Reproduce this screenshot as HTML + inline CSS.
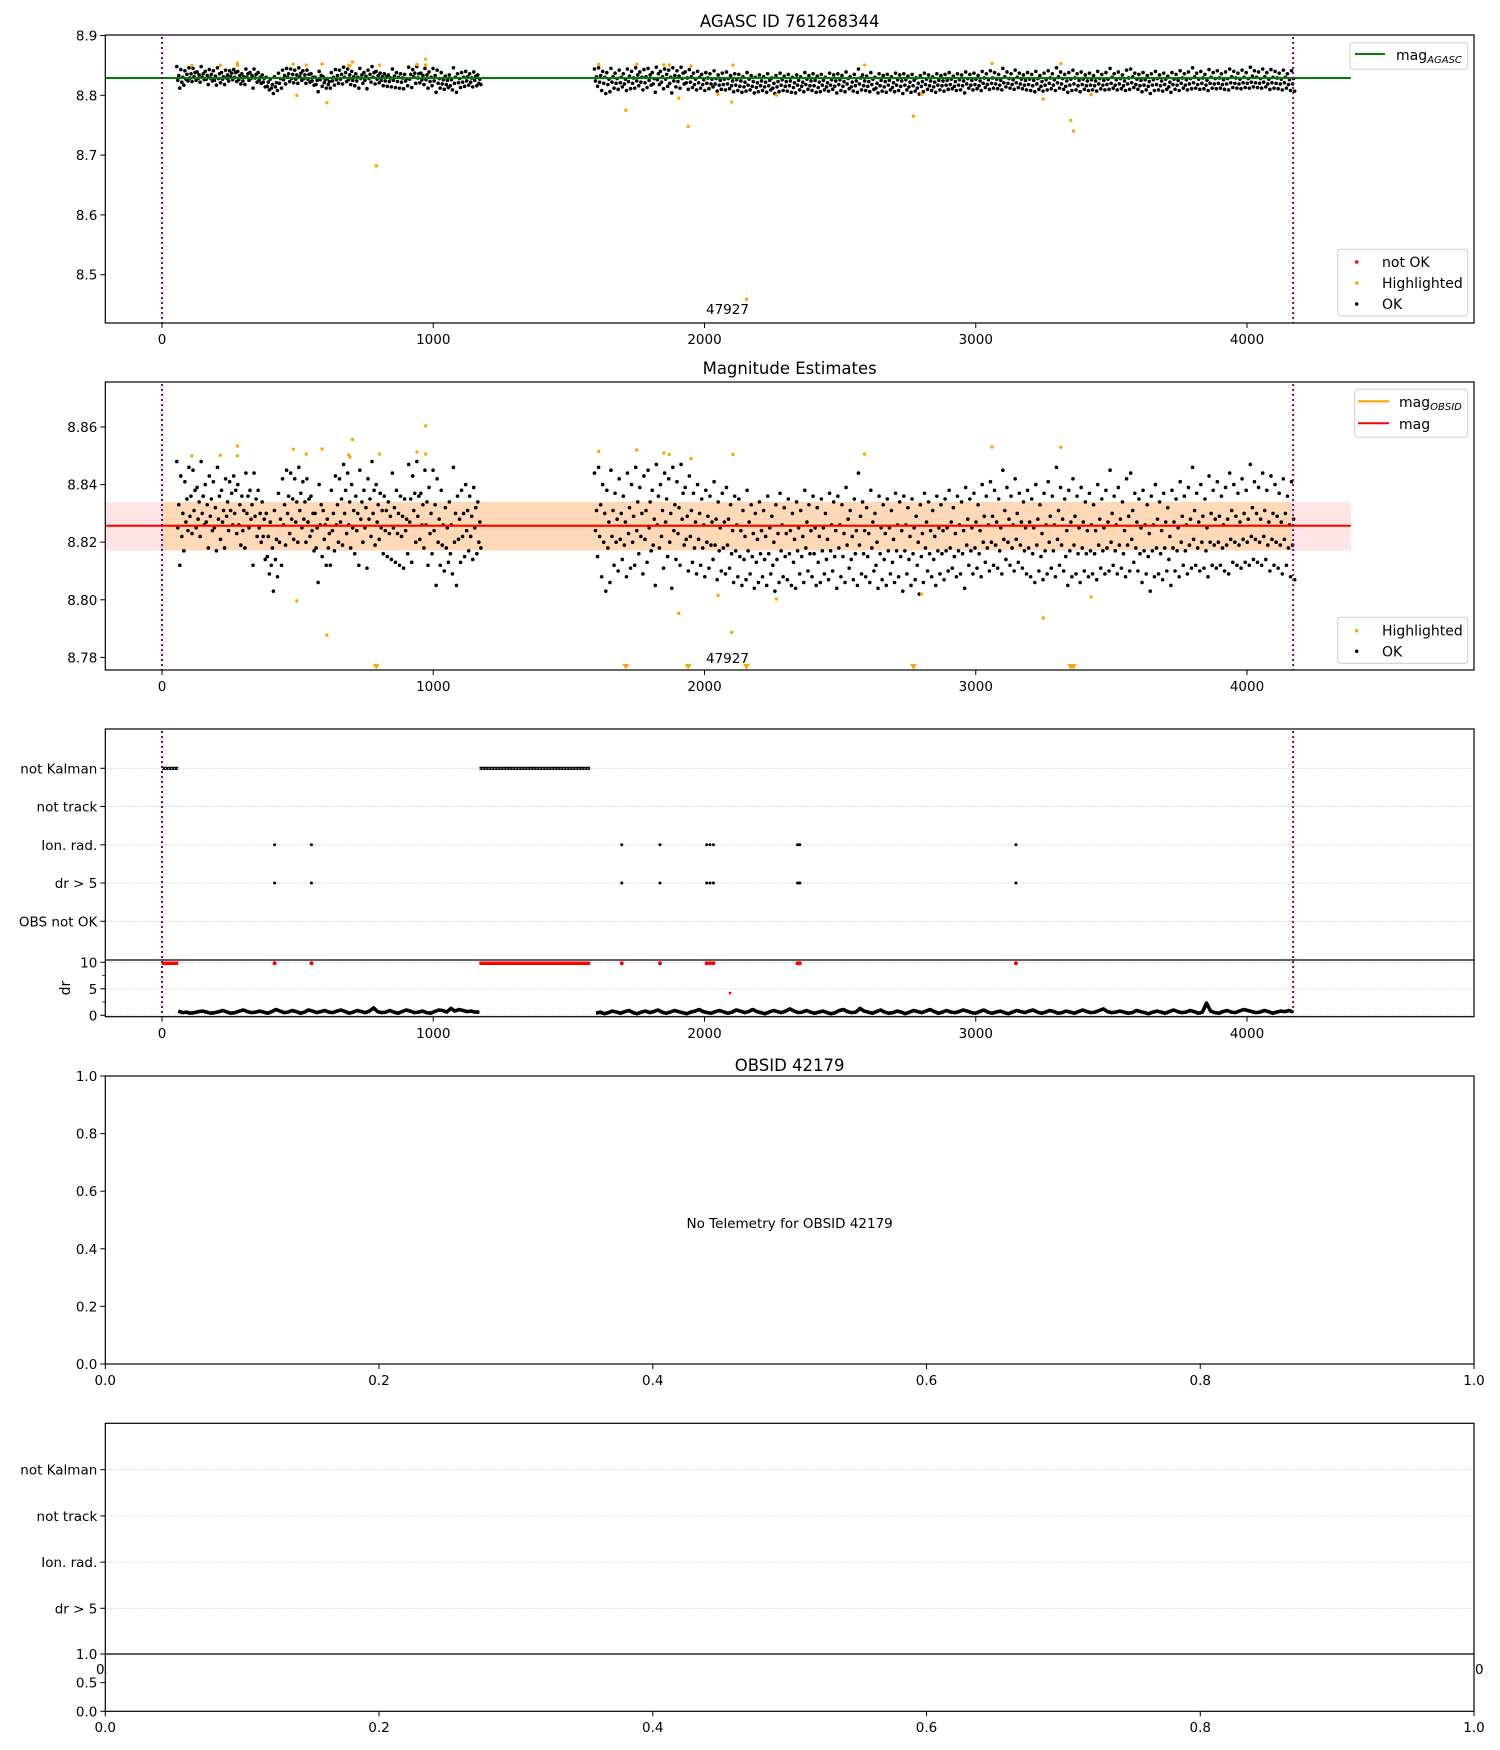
<!DOCTYPE html>
<html><head><meta charset="utf-8"><style>
html,body{margin:0;padding:0;background:#fff}
svg{display:block}
text{font-family:"DejaVu Sans","Liberation Sans",sans-serif;fill:#000}
</style></head><body>
<svg id="fig" width="1500" height="1750" viewBox="0 0 1500 1750" xmlns="http://www.w3.org/2000/svg"></svg>
<script>
// ---------- data ----------
const segStart = [60, 1600];
const segEnd = [1170, 4170];
// magnitude samples, in units of 0.001 mag above 8.800, 4 per time step
const magSeg1 = [
48,33,25,12, 43,30,22,17, 41,35,27,24, 46,36,29,23, 45,38,31,25,
39,34,28,22, 48,36,30,26, 40,33,27,18, 43,35,29,24, 41,32,25,17,
46,36,28,21, 38,31,27,18, 42,34,29,24, 41,37,31,26, 43,38,30,23,
40,33,26,19, 36,31,24,18, 44,36,30,25, 38,33,28,12, 44,35,29,22,
38,30,25,20, 34,28,22,14, 30,22,15,9, 27,18,12,3, 31,21,14,8,
37,28,20,12, 42,33,26,19, 45,36,30,23, 44,35,28,21, 42,34,27,20,
46,37,31,25, 41,34,28,20, 42,35,27,22, 36,30,24,17, 30,25,18,6,
40,33,26,15, 31,26,21,12, 28,23,18,12, 38,30,24,17, 43,33,26,20,
42,35,27,19, 47,38,30,23, 44,34,26,18, 40,31,25,16, 36,30,24,12,
45,34,28,20, 38,32,25,11, 42,35,28,22, 48,38,30,19, 40,33,27,21,
37,31,25,16, 36,31,24,15, 34,29,23,14, 44,32,25,13, 38,30,23,12,
36,29,22,11, 35,28,24,16, 47,35,27,13, 43,37,31,20, 48,36,29,21,
37,33,26,18, 45,34,26,12, 39,30,23,16, 45,33,24,5, 42,28,20,12,
38,26,19,10, 32,25,18,13, 34,26,16,9, 46,30,20,5, 36,28,21,13,
38,30,22,15, 40,31,24,17, 36,29,22,14, 39,32,25,16, 34,27,20,18];
const magSeg2 = [
44,31,24,15, 46,33,22,8, 40,30,20,3, 38,27,18,6, 45,31,22,12,
37,28,20,10, 42,30,21,14, 36,27,19,8, 44,32,23,11, 40,29,20,12,
46,34,24,16, 39,30,22,9, 43,31,21,13, 45,34,25,17, 38,28,19,5,
47,36,26,18, 40,31,22,11, 44,35,27,15, 42,30,20,4, 46,33,24,14,
41,32,23,12, 47,37,28,19, 39,29,21,10, 43,31,22,13, 37,27,18,9,
40,30,21,12, 35,26,18,8, 38,29,20,11, 36,27,19,14, 41,28,19,7,
34,25,17,10, 37,27,18,9, 39,28,19,11, 33,24,16,6, 36,26,17,8,
35,24,15,5, 31,22,14,7, 38,27,17,9, 33,23,15,4, 30,21,13,6,
34,24,16,8, 31,22,14,5, 36,25,16,9, 29,20,12,3, 33,23,14,6,
37,26,17,8, 32,23,15,7, 35,24,16,5, 30,21,13,4, 34,25,17,9,
31,22,15,6, 38,27,18,10, 33,24,16,8, 36,25,16,5, 32,22,13,6,
35,25,17,9, 30,21,14,7, 37,26,17,10, 34,24,15,4, 36,26,18,8,
33,23,15,6, 39,28,19,11, 31,22,14,7, 35,24,16,5, 44,29,19,9,
34,24,16,8, 32,23,15,6, 38,27,18,10, 30,20,12,4, 36,25,16,7,
33,23,14,5, 35,25,17,9, 31,21,13,6, 37,26,17,8, 34,24,15,3,
36,26,17,9, 32,22,14,5, 35,25,16,7, 29,20,12,2, 33,23,15,6,
37,27,18,10, 34,24,16,8, 31,22,14,5, 36,25,17,9, 33,24,16,7,
35,25,17,10, 38,27,18,11, 32,23,15,8, 36,26,17,9, 34,24,16,4,
39,28,19,12, 35,25,17,9, 37,27,18,11, 33,24,16,8, 40,29,20,13,
36,26,18,10, 41,29,20,12, 38,27,19,11, 35,25,17,9, 45,31,21,14,
39,28,20,12, 36,26,18,10, 42,30,21,13, 37,27,19,11, 34,25,17,9,
38,27,18,8, 35,25,16,6, 40,28,19,10, 33,23,15,7, 37,26,17,9,
41,29,20,11, 36,26,17,8, 46,31,21,12, 39,28,19,10, 35,24,15,5,
38,27,17,8, 42,29,19,9, 36,25,16,6, 39,27,18,10, 34,24,16,8,
37,26,17,9, 33,24,16,7, 40,28,19,11, 35,25,17,9, 38,27,18,10,
45,30,20,12, 36,26,17,9, 39,28,19,11, 34,24,16,8, 42,29,19,10,
44,31,21,13, 37,27,18,10, 35,25,16,6, 38,26,17,9, 33,23,15,3,
36,26,17,8, 40,28,18,9, 34,24,16,7, 37,27,18,10, 32,22,14,5,
38,27,18,10, 35,25,17,8, 41,29,20,12, 36,26,17,9, 39,28,19,11,
46,31,21,12, 37,27,18,10, 40,29,20,11, 35,25,17,8, 43,30,20,12,
38,28,19,11, 41,29,20,12, 36,26,18,10, 39,28,19,9, 44,31,21,13,
40,29,20,12, 37,27,19,11, 42,30,21,13, 38,28,20,12, 47,32,22,14,
41,30,21,13, 39,28,20,12, 44,31,22,14, 38,27,19,10, 43,30,21,12,
40,29,20,11, 37,27,19,9, 42,30,21,12, 36,26,18,8, 41,28,19,7];
const drSeg1 = [0.8,0.5,0.6,0.4,0.5,0.7,0.8,0.6,0.4,0.5,0.7,0.9,0.6,0.4,0.5,0.8,1.0,0.7,0.5,0.6,0.8,0.6,0.4,0.7,1.1,0.8,0.5,0.6,0.9,0.7,0.4,0.6,1.0,0.8,0.5,0.7,0.9,0.6,0.5,0.8,1.0,0.7,0.4,0.6,0.9,0.7,0.5,0.8,1.4,0.7,0.5,0.6,0.9,0.6,0.4,0.7,1.0,0.8,0.5,0.6,0.8,0.5,0.4,0.7,1.0,0.9,0.6,1.3,0.8,1.1,0.9,0.7,0.8,0.6,0.6];
const drSeg2 = [0.4,0.6,0.3,0.5,0.8,0.6,0.4,0.7,0.9,0.5,0.3,0.6,0.8,0.5,0.7,1.0,0.6,0.4,0.6,0.9,0.7,0.5,0.3,0.6,0.8,1.1,0.7,0.5,0.4,0.7,0.9,0.6,0.4,0.6,1.0,0.8,0.5,0.7,1.1,0.7,0.5,0.3,0.6,0.9,0.7,0.5,0.8,1.2,0.8,0.5,0.6,0.9,0.6,0.4,0.6,0.8,0.5,0.3,0.5,0.9,1.1,0.7,0.5,0.6,1.3,0.8,0.6,0.4,0.7,1.0,0.6,0.4,0.5,0.8,0.6,0.3,0.6,0.9,0.7,0.5,0.8,1.1,0.7,0.4,0.6,0.9,0.6,0.5,0.7,1.0,0.8,0.5,0.4,0.7,1.0,0.6,0.4,0.6,0.8,0.5,0.3,0.6,0.9,0.7,0.5,0.8,1.0,0.6,0.4,0.6,0.9,0.7,0.4,0.5,0.8,0.6,0.4,0.7,1.0,0.7,0.5,0.6,0.9,1.2,0.7,0.5,0.6,0.8,0.6,0.4,0.5,0.9,0.7,0.5,0.3,0.6,0.8,0.6,0.4,0.7,1.0,0.7,0.5,0.6,0.9,0.7,0.4,0.6,2.3,0.8,0.5,0.4,0.7,0.9,0.6,0.5,0.8,1.1,0.9,0.7,0.5,0.6,0.9,0.7,0.4,0.6,0.8,0.7,0.9,0.6];
const highT = [110,215,278,278,484,497,532,590,608,688,693,702,790,802,940,972,972,1610,1710,1750,1850,1870,1905,1940,1950,2050,2100,2105,2155,2265,2590,2770,2800,3060,3249,3314,3350,3360,3425];
const highMag = [8.850,8.8502,8.8534,8.850,8.8523,8.7996,8.8506,8.8524,8.7877,8.8503,8.8496,8.8557,8.682,8.8506,8.8513,8.8604,8.8506,8.8515,8.775,8.852,8.851,8.8505,8.7953,8.748,8.849,8.8015,8.7887,8.8505,8.459,8.8003,8.8506,8.765,8.802,8.8531,8.7937,8.853,8.758,8.740,8.801];
const magAgasc = 8.829;
const magMean = 8.8257;
const magBandLo = 8.8171, magBandHi = 8.834;
const obsStart = 0, obsEnd = 4170;
const notKalmanStart = [0, 1170];
const notKalmanEnd = [60, 1578];
const eventTimes = [415, 551, 1695, 1836, 2008, 2020, 2033, 2343, 2351, 3148];
const strayRedT = [2094], strayRedDr = [4.2];
const xTicks = [0, 1000, 2000, 3000, 4000];
const p1YTicks = [8.5, 8.6, 8.7, 8.8, 8.9];
const p2YTicks = [8.78, 8.80, 8.82, 8.84, 8.86];
const flagRows = ["not Kalman", "not track", "Ion. rad.", "dr > 5", "OBS not OK"];
const flagRows5 = ["not Kalman", "not track", "Ion. rad.", "dr > 5"];
const drTicks = [0, 5, 10];
const unitTicks = [0, 0.2, 0.4, 0.6, 0.8, 1.0];
const halfTicks = [0, 0.5, 1.0];

// ---------- helpers ----------
const NS = "http://www.w3.org/2000/svg";
const svg = document.getElementById("fig");
function el(tag, attrs, parent) {
  const e = document.createElementNS(NS, tag);
  for (const k in attrs) e.setAttribute(k, attrs[k]);
  (parent || svg).appendChild(e);
  return e;
}
function txt(s, x, y, size, anchor, parent) {
  const t = el("text", {x: x, y: y, "font-size": size, "text-anchor": anchor || "start"}, parent);
  t.textContent = s;
  return t;
}
const L = 105.3, R = 1474;
const X = t => 162 + t * 0.27125;
const Y1 = m => 35.5 + (8.9 - m) * 598;
const Y2 = m => 427 + (8.86 - m) * 2880;
const ROW3 = i => 768.3 + i * 38.25;
const YD = v => 1015.3 - v * 5.3;
const X4 = v => L + v * (R - L);
const Y4 = v => 1364 - v * 288;
const ROW5 = i => 1469.7 + i * 46.2;
const Y5 = v => 1711.3 - v * 57.3;

function frame(top, bottom, name) {
  const r = el("rect", {x: L, y: top, width: R - L, height: bottom - top, fill: "none", stroke: "#000", "stroke-width": 1.2});
  
  
}
function xAxis(ticks, fx, bottom, labelY, fmt, name) {
  const g = el("g", {});
  
  
  ticks.forEach(v => {
    const x = fx(v);
    el("line", {x1: x, x2: x, y1: bottom, y2: bottom + 5, stroke: "#000", "stroke-width": 1}, g);
    txt(fmt(v), x, labelY, 13.5, "middle", g);
  });
}
function yAxis(ticks, fy, fmt, name) {
  const g = el("g", {});
  
  
  ticks.forEach(v => {
    const y = fy(v);
    el("line", {x1: L - 5, x2: L, y1: y, y2: y, stroke: "#000", "stroke-width": 1}, g);
    txt(fmt(v), L - 8, y + 5, 13.5, "end", g);
  });
}
function grid(ys, name, x2) {
  const g = el("g", {});
  
  
  ys.forEach(y => el("line", {x1: L, x2: x2 || R, y1: y, y2: y, stroke: "#b0b0b0", "stroke-width": 0.8, "stroke-dasharray": "1,2"}, g));
}
function vline(t, y1, y2, name) {
  const l = el("line", {x1: X(t), x2: X(t), y1: y1, y2: y2, stroke: "#800080", "stroke-width": 2, "stroke-dasharray": "2,3"});
  
  
}
function forSamples(arr, per, cb) {
  const s = (arr === magSeg1 || arr === drSeg1) ? 0 : 1;
  const n = arr.length / per;
  const step = (segEnd[s] - segStart[s]) / (n - 1);
  for (let i = 0; i < n; i++) {
    for (let k = 0; k < per; k++) cb(segStart[s] + i * step, arr[i * per + k], k, step);
  }
}
const spreadOrder = [0, 2, 1, 3];
function okPoints(fy, name) {
  const g = el("g", {fill: "#000"});
  
  
  [magSeg1, magSeg2].forEach(arr => forSamples(arr, 4, (t, v, k, step) => {
    const tt = t + (spreadOrder[k] - 1.5) * step / 4;
    el("circle", {cx: X(tt), cy: fy(8.8 + v / 1000), r: 1.8}, g);
  }));
}
function highlightPoints(fy, ymin, bottom, name) {
  const g = el("g", {fill: "#ffa500"});
  
  
  highT.forEach((t, i) => {
    const m = highMag[i];
    if (m >= ymin) el("circle", {cx: X(t), cy: fy(m), r: 1.7}, g);
    else {
      const x = X(t);
      el("polygon", {points: `${x-3.5},${bottom-6} ${x+3.5},${bottom-6} ${x},${bottom-0.5}`}, g);
    }
  });
}
function legendBox(x, y, w, h, name) {
  const r = el("rect", {x: x, y: y, width: w, height: h, rx: 3, fill: "#fff", "fill-opacity": 0.8, stroke: "#ccc", "stroke-width": 1});
  
  
}

// ---------- Panel 1 ----------
txt("AGASC ID 761268344", (L + R) / 2, 27, 16.5, "middle");
okPoints(Y1, "panel1-ok-points");
highlightPoints(Y1, 8.419, 323, "panel1-highlighted-points");
{
  const l = el("line", {x1: L, x2: X(4383), y1: Y1(magAgasc), y2: Y1(magAgasc), stroke: "#008000", "stroke-width": 2});
  
  
}
vline(obsStart, 37, 323, "panel1-obs-start-line");
vline(obsEnd, 37, 323, "panel1-obs-end-line");
txt("47927", 706, 314, 13.5, "start");
frame(35, 323, "panel1-axes");
xAxis(xTicks, X, 323, 344, v => String(v), "panel1-x-axis");
yAxis(p1YTicks, Y1, v => v.toFixed(1), "panel1-y-axis");
legendBox(1350, 42.7, 117.7, 26.6, "panel1-legend-top");
el("line", {x1: 1355, x2: 1385, y1: 54, y2: 54, stroke: "#008000", "stroke-width": 2});
{
  const t = txt("mag", 1396, 60, 14, "start");
  
  const s = el("tspan", {"font-size": 10, "font-style": "italic", dy: 3}, t); s.textContent = "AGASC";
}
legendBox(1337.7, 249.3, 130, 66.7, "panel1-legend-bottom");
[["not OK", "#ff0000", 262], ["Highlighted", "#ffa500", 283], ["OK", "#000", 304]].forEach(e => {
  el("circle", {cx: 1356.7, cy: e[2], r: 1.8, fill: e[1]});
  txt(e[0], 1382, e[2] + 5, 14, "start");
});

// ---------- Panel 2 ----------
txt("Magnitude Estimates", (L + R) / 2, 374, 16.5, "middle");
{
  const b = el("rect", {x: L, y: Y2(magBandHi), width: X(4383) - L, height: Y2(magBandLo) - Y2(magBandHi), fill: "#ff0000", "fill-opacity": 0.1});
  
  
  const o = el("rect", {x: X(obsStart), y: Y2(magBandHi), width: X(obsEnd) - X(obsStart), height: Y2(magBandLo) - Y2(magBandHi), fill: "#ffa500", "fill-opacity": 0.2});
  
  
}
okPoints(Y2, "panel2-ok-points");
highlightPoints(Y2, 8.7756, 670, "panel2-highlighted-points");
{
  const o = el("line", {x1: X(obsStart), x2: X(obsEnd), y1: Y2(magMean), y2: Y2(magMean), stroke: "#ffa500", "stroke-width": 2});
  
  
  const l = el("line", {x1: L, x2: X(4383), y1: Y2(magMean), y2: Y2(magMean), stroke: "#ff0000", "stroke-width": 2});
  
  
}
vline(obsStart, 384, 670, "panel2-obs-start-line");
vline(obsEnd, 384, 670, "panel2-obs-end-line");
txt("47927", 706, 663, 13.5, "start");
frame(382, 670, "panel2-axes");
xAxis(xTicks, X, 670, 691, v => String(v), "panel2-x-axis");
yAxis(p2YTicks, Y2, v => v.toFixed(2), "panel2-y-axis");
legendBox(1354.7, 389.3, 113, 48, "panel2-legend-top");
el("line", {x1: 1358, x2: 1389, y1: 401.3, y2: 401.3, stroke: "#ffa500", "stroke-width": 2.2});
el("line", {x1: 1358, x2: 1389, y1: 423.3, y2: 423.3, stroke: "#ff0000", "stroke-width": 2});
{
  const t = txt("mag", 1399, 407, 14, "start");
  
  const s = el("tspan", {"font-size": 10, "font-style": "italic", dy: 3}, t); s.textContent = "OBSID";
  txt("mag", 1399, 429, 14, "start");
}
legendBox(1337.7, 617.3, 130, 46, "panel2-legend-bottom");
[["Highlighted", "#ffa500", 630.7], ["OK", "#000", 651.3]].forEach(e => {
  el("circle", {cx: 1356.7, cy: e[2], r: 1.8, fill: e[1]});
  txt(e[0], 1382, e[2] + 5, 14, "start");
});

// ---------- Panel 3 (flags + dr) ----------
grid(flagRows.map((_, i) => ROW3(i)), "panel3-row-grid");
grid(drTicks.map(YD), "panel3-dr-grid");
{
  const g = el("g", {});
  
  
  const gr = el("g", {});
  
  
  notKalmanStart.forEach((s, i) => {
    el("line", {x1: X(s), x2: X(notKalmanEnd[i]), y1: ROW3(0), y2: ROW3(0), stroke: "#000", "stroke-width": 3.2}, g);
    el("line", {x1: X(s), x2: X(notKalmanEnd[i]), y1: ROW3(0), y2: ROW3(0), stroke: "#fff", "stroke-width": 0.8, "stroke-dasharray": "1,2"}, g);
    el("line", {x1: X(s), x2: X(notKalmanEnd[i]), y1: YD(10) + 1, y2: YD(10) + 1, stroke: "#ff0000", "stroke-width": 3.5}, gr);
  });
  const ge = el("g", {fill: "#000"});
  
  
  eventTimes.forEach(t => {
    el("circle", {cx: X(t), cy: ROW3(2), r: 1.5}, ge);
    el("circle", {cx: X(t), cy: ROW3(3), r: 1.5}, ge);
    el("circle", {cx: X(t), cy: YD(10) + 1, r: 2, fill: "#ff0000"}, gr);
  });
  strayRedT.forEach((t, i) => el("circle", {cx: X(t), cy: YD(strayRedDr[i]), r: 1.4, fill: "#ff0000"}, gr));
}
{
  const g = el("g", {});
  
  
  [drSeg1, drSeg2].forEach(arr => {
    const pts = [];
    forSamples(arr, 1, (t, v) => pts.push(X(t).toFixed(1) + "," + YD(v).toFixed(1)));
    el("polyline", {points: pts.join(" "), fill: "none", stroke: "#000", "stroke-width": 3.6, "stroke-linejoin": "round"}, g);
  });
}
vline(obsStart, 731, 1016.7, "panel3-obs-start-line");
vline(obsEnd, 731, 1016.7, "panel3-obs-end-line");
frame(729, 1016.7, "panel3-axes");
el("line", {x1: L, x2: R, y1: 960, y2: 960, stroke: "#000", "stroke-width": 1.2});
xAxis(xTicks, X, 1016.7, 1038, v => String(v), "panel3-x-axis");
yAxis(flagRows.map((_, i) => i), ROW3, i => flagRows[i], "panel3-flag-axis");
yAxis(drTicks, YD, v => String(v), "panel3-dr-axis");
[2.5, 7.5].forEach(v => el("line", {x1: L - 3, x2: L, y1: YD(v), y2: YD(v), stroke: "#000", "stroke-width": 0.8}));
{
  const t = txt("dr", 0, 0, 14, "middle");
  t.setAttribute("transform", "translate(70,988) rotate(-90)");
  
}

// ---------- Panel 4 ----------
txt("OBSID 42179", (L + R) / 2, 1071, 16.5, "middle");
frame(1076, 1364, "panel4-axes");
xAxis(unitTicks, X4, 1364, 1385, v => v.toFixed(1), "panel4-x-axis");
yAxis(unitTicks, Y4, v => v.toFixed(1), "panel4-y-axis");
txt("No Telemetry for OBSID 42179", (L + R) / 2, 1228, 13.5, "middle");

// ---------- Panel 5 ----------
grid(flagRows5.map((_, i) => ROW5(i)), "panel5-row-grid", R - 2);
frame(1423.3, 1711.3, "panel5-axes");
el("line", {x1: L, x2: R, y1: 1654, y2: 1654, stroke: "#000", "stroke-width": 1.2});
yAxis(flagRows5.map((_, i) => i), ROW5, i => flagRows5[i], "panel5-flag-axis");
yAxis(halfTicks, Y5, v => v.toFixed(1), "panel5-sub-y-axis");
xAxis(unitTicks, X4, 1711.3, 1732, v => v.toFixed(1), "panel5-x-axis");
txt("0.", 96, 1674, 13.5, "start");
txt("0", 1475, 1674, 13.5, "start");
{
  const c = el("rect", {x: L + 1, y: 1655, width: 20, height: 30, fill: "#fff"});
  
  
}
</script>
</body></html>
